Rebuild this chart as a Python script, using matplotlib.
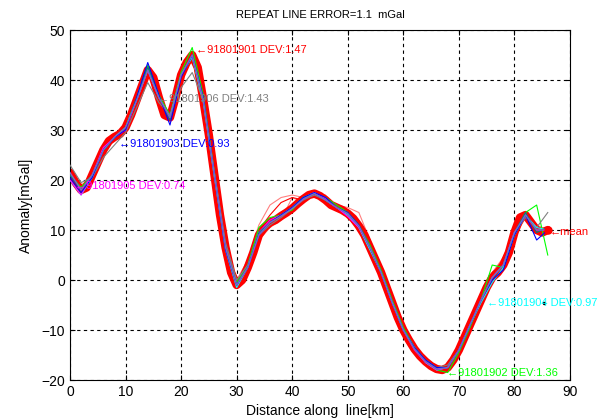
import numpy as np
from matplotlib import pyplot as plt

plt.rcParams['font.family'] = ['Liberation Sans', 'DejaVu Sans']

# mean profile, 1 km spacing
dist_mean = list(range(0, 87))
mean_vals = [21.5, 19.5, 18, 18.5, 21, 23.5, 26, 27.8, 28.6, 29.2,
             30.5, 33, 36, 39, 42, 40.5, 36.5, 33, 32.5, 36.5,
             41, 43.5, 45, 42.5, 36, 29, 21, 13, 6.5, 1.5,
             -1, 0, 2.5, 5.5, 9, 10.5, 11.5, 12, 12.8, 13.5,
             14.3, 15.3, 16.2, 17, 17.3, 16.8, 16, 15, 14.5, 14,
             13.3, 12.3, 10.8, 9, 6.5, 4, 1.5, -1.5, -4.5, -7.5,
             -10, -12, -13.8, -15.2, -16.3, -17.2, -17.8, -18, -17.5, -16,
             -14, -11.5, -9, -6.5, -4, -1.5, 0.5, 1.5, 3, 5.5,
             9.5, 12.5, 13, 11.5, 10, 9.5, 10]

# individual repeat lines, 2 km spacing
dist_line = list(range(0, 87, 2))
line_01 = [21, 18.5, 21.5, 26.5, 28, 31, 36.5, 41.5, 36, 33,
           41.5, 45.5, 36.5, 21.5, 7, -0.5, 3, 10, 13, 15.5,
           16.5, 16, 17, 16.5, 15, 14, 11.5, 7, 2, -4,
           -9.5, -13.5, -16.5, -18, -18, -14.5, -9.5, -4.5, 1.5, 3.5,
           9, 12.5, 9.5, 9.5]
line_02 = [21, 18.5, 21, 26, 28.5, 30.5, 36.5, 43, 37, 33,
           41.5, 46.5, 37, 21.5, 6.5, -0.5, 3, 10.5, 12.5, 13,
           14, 16.5, 17.3, 16.5, 15, 13.5, 11, 7, 2, -4,
           -9.5, -13.5, -16.5, -18, -18.5, -14.5, -9.5, -4, 3, 2.5,
           9, 13.5, 15, 5]
line_03 = [20.5, 17.5, 20.5, 26, 28.5, 30, 36.5, 43.5, 37, 31,
           40.5, 45, 36.5, 21, 6, -1, 2.5, 9, 11.5, 13,
           14.5, 16.5, 17.5, 16.5, 14.5, 13.5, 11, 6.5, 1.5, -4.5,
           -10, -13.5, -16, -17.5, -17.5, -14, -9, -4, 0, 2,
           9, 13, 8, 10]
line_04 = [20, 17, 20.5, 26, 28.5, 30.5, 36, 42, 36.5, 32.5,
           41, 44.5, 35.5, 20.5, 6, -1.5, 2.5, 9.5, 11.5, 13,
           14.5, 16.5, 17.5, 16, 14.5, 13, 10.5, 6, 1.5, -4.5,
           -10, -13.5, -16.5, -18, -17.5, -14, -9, -4.5, -0.5, 2.5,
           9, 13, 10.5, 10]
line_05 = [20, 17, 21, 26.5, 28.5, 30, 36, 42, 36.5, 32.5,
           41, 45, 36, 21, 6.5, -1, 2.5, 9.5, 12, 13,
           14.5, 16.2, 17.5, 16.3, 14.5, 12.7, 10.5, 6.5, 1.5, -4.5,
           -10, -14, -16.5, -18, -17.5, -14, -9, -4, 0.5, 3,
           9.5, 13, 10, 10]
line_06 = [23, 19.5, 20.5, 24.5, 27, 29.5, 34.5, 39.5, 35.5, 33,
           38.5, 41.5, 36, 21.5, 7.5, 0, 3, 9, 11, 12.5,
           14.3, 16, 17, 16, 14.5, 13.3, 10.5, 6.5, 1.5, -4.5,
           -10, -13.5, -16, -17.5, -17, -14, -9, -4, 0.5, 3,
           9.5, 12.5, 10.5, 13.5]
line_07 = [21, 18, 21, 26, 28.5, 30.5, 36, 42.5, 36.5, 32,
           41, 45, 36, 21, 6.5, -1, 2.5, 9.5, 11.5, 13,
           14.5, 16.5, 17.3, 16, 14.5, 13.3, 10.8, 6.5, 1.5, -4.5,
           -10, -13.8, -16.3, -17.8, -17.5, -14, -9, -4, 0.5, 3,
           9.5, 13.5, 9.5, 10.5]
line_08 = [21.5, 18, 21, 26, 28.6, 30.5, 36, 42, 36.5, 32.5,
           41, 45, 36, 21, 6.5, -1, 2.5, 9, 11.5, 12.8,
           14.3, 16.2, 17.3, 16, 14.5, 13.3, 10.8, 6.5, 1.5, -4.5,
           -10, -13.8, -16.3, -17.8, -17.5, -14, -9, -4, 0.5, 3,
           9.5, 13, 10, 10]
red_a = [21, 18.5, 21.5, 25.5, 28, 31, 36, 41, 36, 33.5,
         41, 44, 37, 22, 7.5, 0, 4, 11, 15, 16.5,
         17, 16.5, 16.5, 16, 15, 14.5, 13.5, 8, 2.5, -3.5,
         -9, -13, -16, -18, -18, -15, -10, -5, 1.5, 4.5,
         10, 12.5, 11, 10]
red_b = [22, 19, 20.5, 26.5, 29, 30, 35.5, 41.5, 37.5, 32,
         40, 44.5, 35, 20, 5.5, -1.5, 2, 8, 10.5, 12,
         16.5, 15.5, 17, 17, 14, 12.5, 10, 5.5, 0.5, -5.5,
         -11, -14.5, -17, -18.5, -17, -13, -8, -3, 1, 2,
         8.5, 12.5, 9.5, 10.5]

labels = ['91801901 DEV:1.47', '91801906 DEV:1.43', '91801903 DEV:0.93',
          '91801905 DEV:0.74', '91801904 DEV:0.97', '91801902 DEV:1.36', 'mean']
label_x = [22.6, 15.8, 8.8, 0.9, 75.0, 67.9, 86.3]
label_y = [46.0, 36.2, 27.3, 18.8, -4.5, -18.6, 9.6]
label_colors = ['red', 'gray', 'blue', 'magenta', 'cyan', 'lime', 'red']

fig = plt.figure(figsize=(6.16, 4.2), dpi=100)
ax = fig.add_axes([0.1136, 0.0952, 0.8117, 0.8333])

# thick mean band
ax.plot(dist_mean, mean_vals, color='red', lw=6, solid_capstyle='round', zorder=2)
ax.plot(dist_line, red_a, color='red', lw=0.8, alpha=0.5, zorder=2)
ax.plot(dist_line, red_b, color='red', lw=0.8, alpha=0.5, zorder=2)
ax.plot(dist_line, line_01, color='red', lw=0.8, zorder=3)

ax.plot(dist_line, line_02, color='lime', lw=0.8, zorder=3)
ax.plot(dist_line, line_06, color='gray', lw=0.8, zorder=3)
ax.plot(dist_line, line_04, color='cyan', lw=0.8, zorder=3)
ax.plot(dist_line, line_05, color='magenta', lw=0.8, zorder=3)
ax.plot(dist_line, line_07, color='#008080', lw=0.8, zorder=3)
ax.plot(dist_line, line_03, color='blue', lw=0.8, zorder=4)
ax.plot(dist_line, line_08, color='#7b68c8', lw=1.0, zorder=4)

ax.plot([dist_mean[-1]], [mean_vals[-1]], 'o', color='red', ms=5, zorder=5)
ax.plot([85.3], [-4.5], '.', color='black', ms=3, zorder=5)

for t, x, y, c in zip(labels, label_x, label_y, label_colors):
    ax.text(x, y, '\u2190' + t, color=c, fontsize=8, va='center', ha='left', zorder=6)

ax.set_xlim(0, 90)
ax.set_ylim(-20, 50)
ax.set_xticks(range(0, 91, 10))
ax.set_yticks(range(-20, 51, 10))
ax.grid(True, color='black', ls=(0, (3, 3)), lw=0.8)
ax.tick_params(direction='in', top=True, right=True, labelsize=10)
for s in ax.spines.values():
    s.set_linewidth(0.8)

ax.set_title('REPEAT LINE ERROR=1.1  mGal', fontsize=8, pad=9)
ax.set_xlabel('Distance along  line[km]', fontsize=10, labelpad=4)
ax.set_ylabel('Anomaly[mGal]', fontsize=10, labelpad=6)

fig.savefig('out.png', dpi=100)
